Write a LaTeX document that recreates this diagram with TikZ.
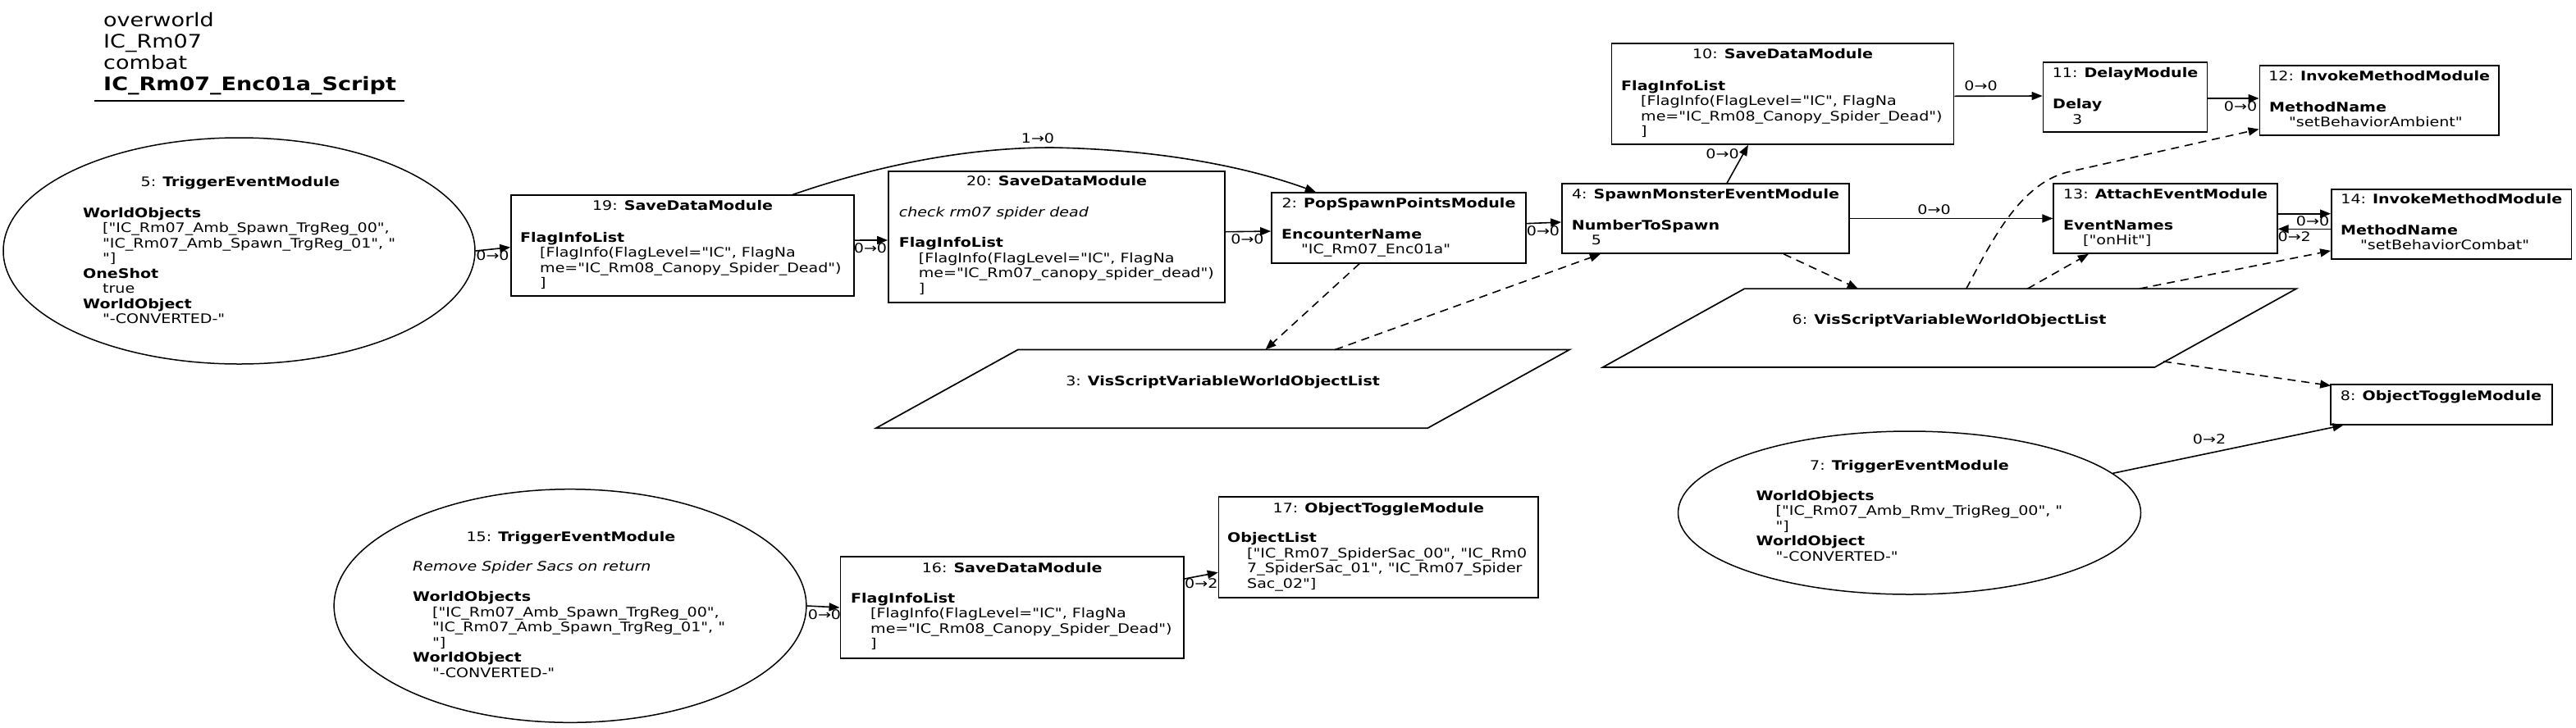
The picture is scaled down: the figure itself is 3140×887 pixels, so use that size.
\documentclass[tikz,border=0pt]{standalone}
\usepackage{fontspec}
\setmainfont{DejaVu Sans}[FakeStretch=1.19, Ligatures=TeXOff]
\usetikzlibrary{arrows.meta,shapes.geometric,calc}
\newcommand\Body[1]{\vtop{\baselineskip=18.5pt\lineskiplimit=-100pt\lineskip=0pt #1}}
\newcommand\Ln[1]{\hbox{#1}}
\newcommand\In[1]{\hbox{\kern24pt #1}}
\begin{document}
\begin{tikzpicture}[x=1pt,y=-1pt,
 box/.style={draw, line width=1.7pt, inner sep=0, rectangle},
 ell/.style={draw, line width=1.5pt, ellipse, inner sep=0},
 frame/.style={inner sep=0, rectangle},
 pline/.style={line width=1.7pt, line join=miter},
 ttl/.style={inner sep=0, anchor=base, font=\fontsize{16}{18.5}\selectfont},
 txt/.style={inner sep=0, anchor=base west, font=\fontsize{16}{18.5}\selectfont},
 lbl/.style={inner sep=0, font=\fontsize{16}{18.5}\selectfont},
 conn/.style={line width=1.6pt, -{Triangle[length=13pt,width=10pt]}},
 dconn/.style={conn, dash pattern=on 10pt off 7pt},
]
\useasboundingbox (0,0) rectangle (3140,887);
\fill[white] (0,0) rectangle (3140,887);

% title
\node[inner sep=0, anchor=base west, font=\fontsize{22.7}{26}\selectfont] (title) at (126,32)
 {\vtop{\baselineskip=26pt\lineskiplimit=-100pt \hbox{overworld}\hbox{IC\_Rm07}\hbox{combat}\hbox{\bfseries IC\_Rm07\_Enc01a\_Script}}};
\draw[line width=1.5pt] (115,123) -- (493,123);

% node 5
\node[ell, minimum width=575, minimum height=276] (n5) at (291.5,306) {};
\node[ttl] (t5a) at (293,227.7) {5: \textbf{TriggerEventModule}};
\node[txt] (t5b) at (101,265) {\Body{\Ln{\bfseries WorldObjects}\In{["IC\_Rm07\_Amb\_Spawn\_TrgReg\_00",}\In{"IC\_Rm07\_Amb\_Spawn\_TrgReg\_01", "}\In{"]}\Ln{\bfseries OneShot}\In{true}\Ln{\bfseries WorldObject}\In{"-CONVERTED-"}}};

% node 19
\node[box, minimum width=418, minimum height=122.7] (n19) at (832,299.65) {};
\node[ttl] (t19a) at (832,256.7) {19: \textbf{SaveDataModule}};
\node[txt] (t19b) at (634,295) {\Body{\Ln{\bfseries FlagInfoList}\In{[FlagInfo(FlagLevel="IC", FlagNa}\In{me="IC\_Rm08\_Canopy\_Spider\_Dead")}\In{]}}};

% node 20
\node[box, minimum width=410, minimum height=160] (n20) at (1288,289) {};
\node[ttl] (t20a) at (1288,226.7) {20: \textbf{SaveDataModule}};
\node[txt] (t20b) at (1095.7,264.5) {\Body{\Ln{\itshape check rm07 spider dead}\Ln{}\Ln{\bfseries FlagInfoList}\In{[FlagInfo(FlagLevel="IC", FlagNa}\In{me="IC\_Rm07\_canopy\_spider\_dead")}\In{]}}};

% node 2
\node[box, minimum width=310, minimum height=85.7] (n2) at (1705,277.85) {};
\node[ttl] (t2a) at (1705,253) {2: \textbf{PopSpawnPointsModule}};
\node[txt] (t2b) at (1562,291) {\Body{\Ln{\bfseries EncounterName}\In{"IC\_Rm07\_Enc01a"}}};

% node 3
\node[frame, minimum width=845, minimum height=95.3] (n3) at (1490.5,474.35) {};
\draw[pline] ($(n3.north west)+(173,0)$) -- (n3.north east) -- ($(n3.south east)+(-173,0)$) -- (n3.south west) -- cycle;
\node[ttl] (t3) at (1490.6,470) {3: \textbf{VisScriptVariableWorldObjectList}};

% node 4
\node[box, minimum width=350, minimum height=85] (n4) at (2079,266.5) {};
\node[ttl] (t4a) at (2079,242.7) {4: \textbf{SpawnMonsterEventModule}};
\node[txt] (t4b) at (1915.7,280) {\Body{\Ln{\bfseries NumberToSpawn}\In{5}}};

% node 10
\node[box, minimum width=417, minimum height=122.7] (n10) at (2173,114.65) {};
\node[ttl] (t10a) at (2173,71.7) {10: \textbf{SaveDataModule}};
\node[txt] (t10b) at (1976,110) {\Body{\Ln{\bfseries FlagInfoList}\In{[FlagInfo(FlagLevel="IC", FlagNa}\In{me="IC\_Rm08\_Canopy\_Spider\_Dead")}\In{]}}};

% node 11
\node[box, minimum width=200, minimum height=85.3] (n11) at (2590.5,118.65) {};
\node[ttl] (t11a) at (2590.5,94.3) {11: \textbf{DelayModule}};
\node[txt] (t11b) at (2502,132.7) {\Body{\Ln{\bfseries Delay}\In{3}}};

% node 12
\node[box, minimum width=291.6, minimum height=85] (n12) at (2900.2,122.5) {};
\node[ttl] (t12a) at (2900.2,98.3) {12: \textbf{InvokeMethodModule}};
\node[txt] (t12b) at (2766,136) {\Body{\Ln{\bfseries MethodName}\In{"setBehaviorAmbient"}}};

% node 13
\node[box, minimum width=272.4, minimum height=85] (n13) at (2639.5,266.5) {};
\node[ttl] (t13a) at (2639.5,242.7) {13: \textbf{AttachEventModule}};
\node[txt] (t13b) at (2515,280) {\Body{\Ln{\bfseries EventNames}\In{["onHit"]}}};

% node 14
\node[box, minimum width=292.5, minimum height=85] (n14) at (2988.25,273.5) {};
\node[ttl] (t14a) at (2988.25,248.3) {14: \textbf{InvokeMethodModule}};
\node[txt] (t14b) at (2853,286) {\Body{\Ln{\bfseries MethodName}\In{"setBehaviorCombat"}}};

% node 6
\node[frame, minimum width=845, minimum height=95.4] (n6) at (2376.5,400) {};
\draw[pline] ($(n6.north west)+(172.7,0)$) -- (n6.north east) -- ($(n6.south east)+(-172.7,0)$) -- (n6.south west) -- cycle;
\node[ttl] (t6) at (2376,395) {6: \textbf{VisScriptVariableWorldObjectList}};

% node 8
\node[box, minimum width=269.7, minimum height=48.4] (n8) at (2975.85,493.5) {};
\node[ttl] (t8) at (2975.5,488.3) {8: \textbf{ObjectToggleModule}};

% node 7
\node[ell, minimum width=564, minimum height=199] (n7) at (2327.5,625.5) {};
\node[ttl] (t7a) at (2327.5,573) {7: \textbf{TriggerEventModule}};
\node[txt] (t7b) at (2140.5,610) {\Body{\Ln{\bfseries WorldObjects}\In{["IC\_Rm07\_Amb\_Rmv\_TrigReg\_00", "}\In{"]}\Ln{\bfseries WorldObject}\In{"-CONVERTED-"}}};

% node 15
\node[ell, minimum width=575.7, minimum height=284.6] (n15) at (695,739) {};
\node[ttl] (t15a) at (695.9,660) {15: \textbf{TriggerEventModule}};
\node[txt] (t15b) at (503,696.7) {\Body{\Ln{\itshape Remove Spider Sacs on return}\Ln{}\Ln{\bfseries WorldObjects}\In{["IC\_Rm07\_Amb\_Spawn\_TrgReg\_00",}\In{"IC\_Rm07\_Amb\_Spawn\_TrgReg\_01", "}\In{"]}\Ln{\bfseries WorldObject}\In{"-CONVERTED-"}}};

% node 16
\node[box, minimum width=418.6, minimum height=123.4] (n16) at (1233.7,741) {};
\node[ttl] (t16a) at (1233.7,698.3) {16: \textbf{SaveDataModule}};
\node[txt] (t16b) at (1037,735) {\Body{\Ln{\bfseries FlagInfoList}\In{[FlagInfo(FlagLevel="IC", FlagNa}\In{me="IC\_Rm08\_Canopy\_Spider\_Dead")}\In{]}}};

% node 17
\node[box, minimum width=389.4, minimum height=123.3] (n17) at (1680.3,667.65) {};
\node[ttl] (t17a) at (1680.3,625) {17: \textbf{ObjectToggleModule}};
\node[txt] (t17b) at (1496,661.7) {\Body{\Ln{\bfseries ObjectList}\In{["IC\_Rm07\_SpiderSac\_00", "IC\_Rm0}\In{7\_SpiderSac\_01", "IC\_Rm07\_Spider}\In{Sac\_02"]}}};

% edges
\draw[conn] (n5.east) -- ($(n19.west)+(0,2)$);
\node[lbl] (l1) at (600.5,312) {0→0};

\draw[conn] ($(n19.east)+(0,-6.6)$) -- ($(n20.west)+(0,4)$);
\node[lbl] (l2) at (1061,303) {0→0};

\draw[conn] ($(n20.east)+(0,-6.3)$) -- ($(n2.west)+(0,4.2)$);
\node[lbl] (l3) at (1520.5,291.7) {0→0};

\draw[conn] ($(n19.north west)+(344,0)$) .. controls (1060,205) and (1170,180) .. (1282,180) .. controls (1400,182) and (1510,200) .. ($(n2.north west)+(54.7,0)$);
\node[lbl] (l4) at (1265,169) {1→0};

\draw[conn] ($(n2.east)+(0,-5.2)$) -- ($(n4.west)+(0,4.5)$);
\node[lbl] (l5) at (1881,281.7) {0→0};

\draw[dconn] ($(n2.south west)+(108,0)$) -- ($(n3.north west)+(474.7,0)$);
\draw[dconn] ($(n3.north west)+(559.7,0)$) -- ($(n4.south west)+(47.7,0)$);

\draw[conn] ($(n4.north west)+(202,0)$) -- ($(n10.south west)+(167.3,0)$);
\node[lbl] (l6) at (2099.5,188) {0→0};

\draw[conn] ($(n10.east)+(0,2.65)$) -- ($(n11.west)+(0,-1.65)$);
\node[lbl] (l7) at (2414.5,105) {0→0};

\draw[conn] ($(n11.east)+(0,1.35)$) -- ($(n12.west)+(0,-2.5)$);
\node[lbl] (l8) at (2731,130) {0→0};

\draw[conn] (n4.east) -- (n13.west);
\node[lbl] (l9) at (2357.5,256) {0→0};

\draw[conn] ($(n13.east)+(0,-5.8)$) -- ($(n14.west)+(0,-12.8)$);
\node[lbl] (l10) at (2819,270) {0→0};
\draw[conn] ($(n14.west)+(0,5.8)$) -- ($(n13.east)+(0,12.8)$);
\node[lbl] (l11) at (2796.7,288.3) {0→2};

\draw[dconn] ($(n4.south west)+(271,0)$) -- ($(n6.north west)+(311,0)$);
\draw[dconn] ($(n6.north west)+(443,0)$) .. controls (2425,300) and (2460,225) .. (2520,210) -- ($(n12.south west)+(0,-8.3)$);
\draw[dconn] ($(n6.north west)+(517.7,0)$) -- ($(n13.south west)+(43.4,0)$);
\draw[dconn] ($(n6.north west)+(654,0)$) -- ($(n14.south west)+(0,-11)$);
\draw[dconn] ($(n6.south east)+(-162.3,-7)$) -- ($(n8.north west)+(1,2)$);

\draw[conn] (n7.11.6) -- ($(n8.south west)+(16.3,0)$);
\node[lbl] (l12) at (2693,536) {0→2};

\draw[conn] (n15.east) -- (n16.west);
\node[lbl] (l13) at (1005,750) {0→0};

\draw[conn] ($(n16.east)+(0,-35)$) -- ($(n17.west)+(0,30.65)$);
\node[lbl] (l14) at (1464.3,711.7) {0→2};
\end{tikzpicture}
\end{document}
